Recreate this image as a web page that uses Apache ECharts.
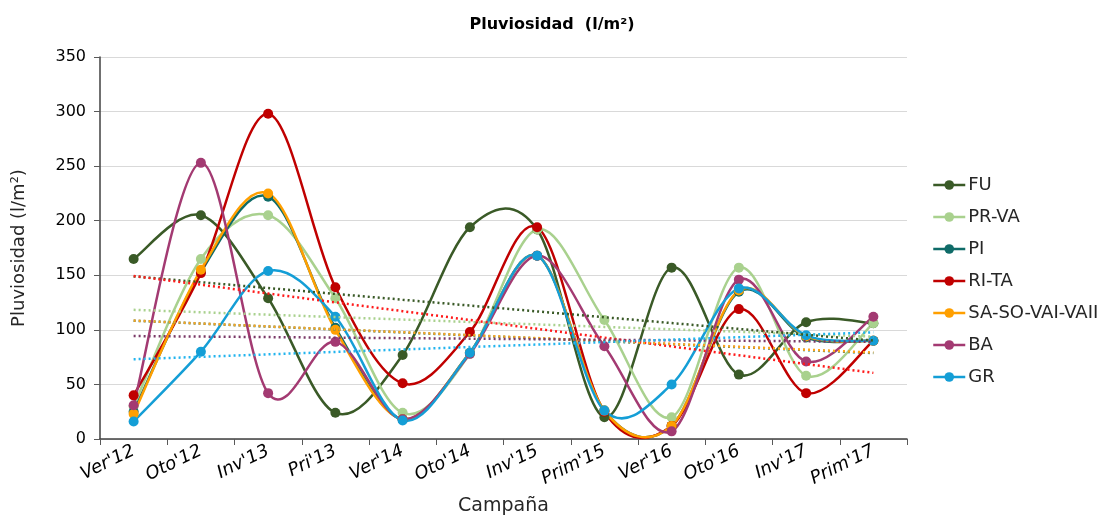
<!DOCTYPE html>
<html>
<head>
<meta charset="utf-8">
<title>Pluviosidad</title>
<script src="https://cdn.jsdelivr.net/npm/echarts@6/dist/echarts.min.js"></script>
<style>
  html, body { margin: 0; padding: 0; background: #ffffff; }
  #chart { width: 1104px; height: 518px; }
</style>
</head>
<body>
<div id="chart"></div>
<script>
// Campaigns (x axis)
const campaigns = ["Ver'12", "Oto'12", "Inv'13", "Pri'13", "Ver'14", "Oto'14", "Inv'15", "Prim'15", "Ver'16", "Oto'16", "Inv'17", "Prim'17"];

// Rainfall per zone, l/m²
const FU     = [165, 205, 129, 24, 77, 194, 192, 20, 157, 59, 107, 106];
const PR_VA  = [30, 165, 205, 129, 24, 78, 192, 109, 20, 157, 58, 106];
const PI     = [25, 153, 222, 102, 18, 79, 168, 26, 12, 135, 93, 90];
const RI_TA  = [40, 152, 298, 139, 51, 98, 194, 25, 12, 119, 42, 90];
const SA_SO  = [23, 155, 225, 100, 18, 79, 168, 26, 12, 136, 94, 90];
const BA     = [31, 253, 42, 89, 18, 78, 168, 85, 7, 146, 71, 112];
const GR     = [16, 80, 154, 112, 17, 79, 168, 26, 50, 138, 95, 90];

const zones = [
  { name: 'FU',             data: FU,    color: '#3a5a27', trend: '#3a5a27' },
  { name: 'PR-VA',          data: PR_VA, color: '#a9d18e', trend: '#a9d18e' },
  { name: 'PI',             data: PI,    color: '#0f6b68', trend: '#1a7a77' },
  { name: 'RI-TA',          data: RI_TA, color: '#c00000', trend: '#ff1a1a' },
  { name: 'SA-SO-VAI-VAII', data: SA_SO, color: '#ff9f00', trend: '#ffa31a' },
  { name: 'BA',             data: BA,    color: '#a33a72', trend: '#7b3a68' },
  { name: 'GR',             data: GR,    color: '#149ed6', trend: '#22b4ee' }
];

// Least-squares linear trend over the campaign index
function linearTrend(values) {
  const n = values.length;
  let sx = 0, sy = 0, sxy = 0, sxx = 0;
  values.forEach((y, x) => { sx += x; sy += y; sxy += x * y; sxx += x * x; });
  const slope = (n * sxy - sx * sy) / (n * sxx - sx * sx);
  const icpt = (sy - slope * sx) / n;
  return values.map((_, x) => +(icpt + slope * x).toFixed(2));
}

// Smoothed curve: one Catmull-Rom bezier segment per pair of campaigns,
// positioned through the chart's own axes (api.coord).
function curveSeries(z) {
  const n = z.data.length;
  return {
    name: z.name + ' curva',
    type: 'custom',
    data: z.data.map((v, i) => [i, v]),
    encode: { x: 0, y: 1 },
    silent: true,
    clip: false,
    z: 3,
    renderItem: function (params, api) {
      const i = params.dataIndex;
      if (i >= n - 1) return null;
      const pt = j => {
        const k = Math.max(0, Math.min(n - 1, j));
        return api.coord([k, z.data[k]]);
      };
      const p0 = pt(i - 1), p1 = pt(i), p2 = pt(i + 1), p3 = pt(i + 2);
      return {
        type: 'bezierCurve',
        shape: {
          x1: p1[0], y1: p1[1],
          x2: p2[0], y2: p2[1],
          cpx1: p1[0] + (p2[0] - p0[0]) / 6, cpy1: p1[1] + (p2[1] - p0[1]) / 6,
          cpx2: p2[0] - (p3[0] - p1[0]) / 6, cpy2: p2[1] - (p3[1] - p1[1]) / 6
        },
        style: { stroke: z.color, lineWidth: 2.5, fill: null }
      };
    }
  };
}

// Markers at each campaign (the straight line is hidden; the curve draws it)
function markerSeries(z) {
  return {
    name: z.name,
    type: 'line',
    data: z.data,
    symbol: 'circle',
    symbolSize: 10,
    itemStyle: { color: z.color },
    lineStyle: { color: z.color, width: 2.5, opacity: 0 },
    z: 3
  };
}

const FONT = 'DejaVu Sans';

// each curve sits just beneath its own markers
const mainSeries = [];
zones.forEach(z => { mainSeries.push(curveSeries(z)); mainSeries.push(markerSeries(z)); });

const trendSeries = zones.map(z => ({
  name: z.name + ' tendencia',
  type: 'line',
  data: linearTrend(z.data),
  symbol: 'none',
  silent: true,
  lineStyle: { color: z.trend, width: 2.5, type: [2, 3] },
  z: 4
}));

const chart = echarts.init(document.getElementById('chart'), null, { renderer: 'canvas' });
chart.setOption({
  backgroundColor: '#ffffff',
  animation: false,
  title: {
    text: 'Pluviosidad  (l/m²)',
    left: 'center',
    top: 12,
    textStyle: { fontFamily: FONT, fontSize: 16, fontWeight: 'bold', color: '#000' }
  },
  legend: {
    data: zones.map(z => z.name),
    orient: 'vertical',
    left: 927,
    top: 171,
    itemWidth: 32,
    itemHeight: 12,
    itemGap: 14,
    lineStyle: { width: 2.5, opacity: 1 },
    textStyle: { fontFamily: FONT, fontSize: 18, color: '#262626', padding: [0, 0, 0, -2] }
  },
  grid: { left: 100, right: 197, top: 57, bottom: 79, containLabel: false, outerBoundsMode: 'none' },
  xAxis: {
    type: 'category',
    data: campaigns,
    boundaryGap: true,
    name: 'Campaña',
    nameLocation: 'middle',
    nameGap: 58,
    nameTextStyle: { fontFamily: FONT, fontSize: 19, color: '#262626' },
    axisLine: { lineStyle: { color: '#404040', width: 1.5 } },
    axisTick: { show: true, length: 6, lineStyle: { color: '#595959' } },
    axisLabel: {
      rotate: 26,
      margin: 11,
      fontFamily: FONT,
      fontSize: 18,
      fontStyle: 'italic',
      color: '#000'
    }
  },
  yAxis: {
    type: 'value',
    min: 0,
    max: 350,
    interval: 50,
    name: 'Pluviosidad (l/m²)',
    nameLocation: 'middle',
    nameGap: 72,
    nameTextStyle: { fontFamily: FONT, fontSize: 18, color: '#262626' },
    axisLine: { show: true, lineStyle: { color: '#404040', width: 1.5 } },
    axisTick: { show: true, length: 6, lineStyle: { color: '#595959' } },
    axisLabel: { fontFamily: FONT, fontSize: 16, color: '#000', margin: 14 },
    splitLine: { lineStyle: { color: '#d9d9d9', width: 1.2 } }
  },
  series: mainSeries.concat(trendSeries)
});
</script>
</body>
</html>
